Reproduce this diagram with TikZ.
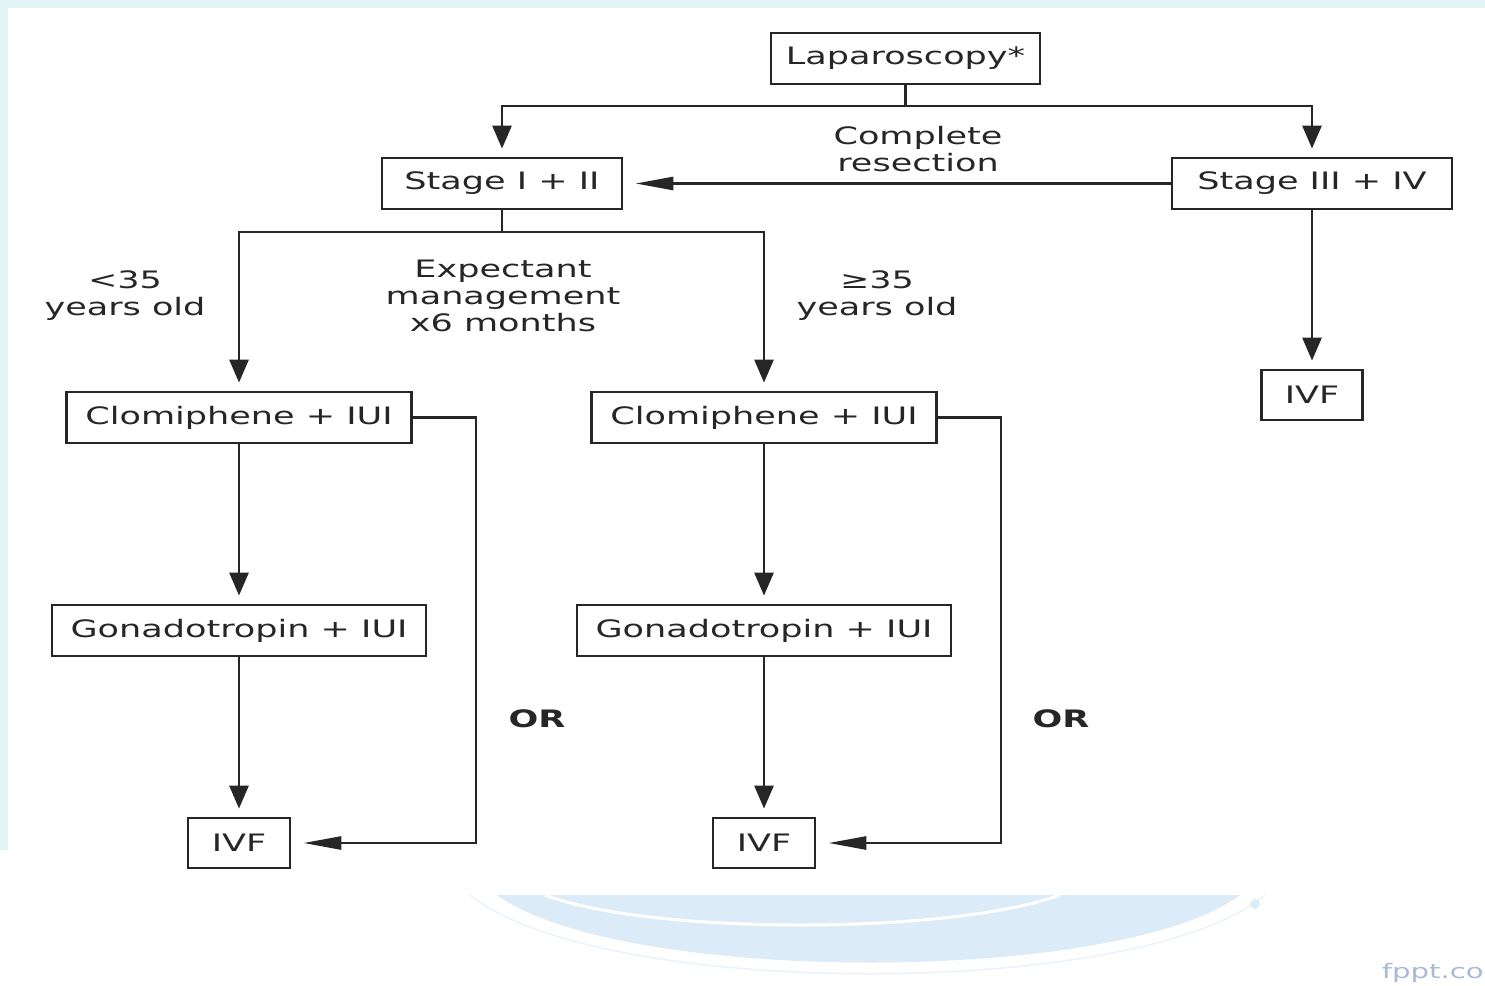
\documentclass[tikz,border=0pt]{standalone}
\usepackage{fontspec}
\setmainfont{DejaVu Sans}[FakeStretch=1.46]
\usetikzlibrary{arrows.meta}
\definecolor{ink}{HTML}{262626}
\definecolor{bgband}{HTML}{E2F3F5}
\definecolor{swoosh}{HTML}{DCEBF8}
\definecolor{wm}{HTML}{A9BAD3}
\begin{document}
\begin{tikzpicture}[x=1pt,y=-1pt,
  box/.style={draw=ink, line width=2.8pt, fill=white, inner sep=0pt, minimum height=51pt, text=ink, font=\fontsize{24}{27}\selectfont},
  lbl/.style={text=ink, align=center, font=\fontsize{24}{27}\selectfont, inner sep=0pt},
  conn/.style={draw=ink, line width=2.8pt},
  varrow/.style={conn, -{Triangle[length=23pt,width=19pt]}, shorten >=8pt},
  harrow/.style={conn, -{Triangle[length=38pt,width=13pt]}, shorten >=12pt},
]
% background
\useasboundingbox (0,0) rectangle (1485,985);
\fill[bgband] (0,0) rectangle (1485,985);
\fill[white] (8,8) rectangle (1485,895);
\fill[white] (0,850) rectangle (1485,985);
\fill[swoosh] (497,895) .. controls (620,985) and (1120,985) .. (1240,895) -- cycle;
\draw[white, line width=3pt] (545,895) .. controls (650,935) and (950,935) .. (1060,895);
\draw[swoosh!60, line width=1.5pt] (470,895) .. controls (600,1000) and (1140,1000) .. (1265,895);
\fill[swoosh] (1255,904) circle (5pt);
\node[text=wm, anchor=south east, inner sep=0pt, font=\fontsize{20}{22}\selectfont] (wmark) at (1484,983) {fppt.co};

% nodes
\node[box, minimum width=269pt] (lap) at (905.5,58.5) {Laparoscopy*};
\node[box, minimum width=240pt] (s12) at (502,183.5) {Stage I + II};
\node[box, minimum width=280pt] (s34) at (1312,183.5) {Stage III + IV};
\node[box, minimum width=101pt, minimum height=50pt] (ivf34) at (1312,395) {IVF};
\node[box, minimum width=345pt] (cl1) at (239,417.5) {Clomiphene + IUI};
\node[box, minimum width=345pt] (cl2) at (764,417.5) {Clomiphene + IUI};
\node[box, minimum width=374pt] (go1) at (239,630.5) {Gonadotropin + IUI};
\node[box, minimum width=374pt] (go2) at (764,630.5) {Gonadotropin + IUI};
\node[box, minimum width=102pt, minimum height=50pt] (ivf1) at (239,843) {IVF};
\node[box, minimum width=102pt, minimum height=50pt] (ivf2) at (764,843) {IVF};

% labels
\node[lbl] (cr) at (918,149) {Complete\\resection};
\node[lbl] (lt35) at (125,296) {<35\\years old};
\node[lbl] (exp) at (503,296) {Expectant\\management\\x6 months};
\node[lbl] (ge35) at (877,296) {≥35\\years old};
\node[lbl, font=\fontsize{24}{27}\selectfont\bfseries] (or1) at (537,719) {OR};
\node[lbl, font=\fontsize{24}{27}\selectfont\bfseries] (or2) at (1061,719) {OR};

% connectors
\coordinate (j1) at (905.5,106);
\draw[conn] (lap.south) -- (j1);
\draw[varrow] (j1) -| (s12.north);
\draw[varrow] (j1) -| (s34.north);
\draw[harrow] (s34.west) -- (s12.east);
\draw[varrow] (s34.south) -- (ivf34.north);
\coordinate (j2) at (502,232);
\draw[conn] (s12.south) -- (j2);
\draw[varrow] (j2) -| (cl1.north);
\draw[varrow] (j2) -| (cl2.north);
\draw[varrow] (cl1.south) -- (go1.north);
\draw[varrow] (cl2.south) -- (go2.north);
\draw[varrow] (go1.south) -- (ivf1.north);
\draw[varrow] (go2.south) -- (ivf2.north);
\draw[harrow] (cl1.east) -- ++(63,0) |- (ivf1.east);
\draw[harrow] (cl2.east) -- ++(63,0) |- (ivf2.east);
\end{tikzpicture}
\end{document}
